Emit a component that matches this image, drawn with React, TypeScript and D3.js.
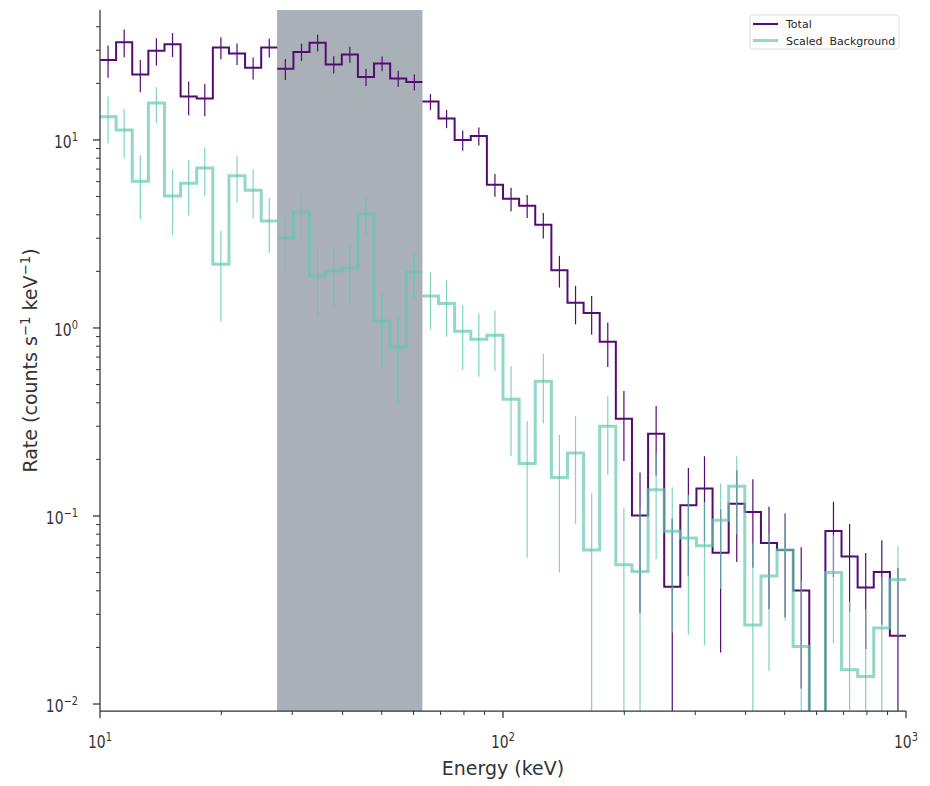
import React from "react";
import * as d3 from "d3";

// spectrum binning: log-uniform bins between 10 keV and 1 MeV
const nBins = 50;
const energyRange = [10, 1000];
const excludedBand = [27.5, 63.1];

// count rates per bin (counts / s / keV)
const totalRate = [
  26.6, 33.1, 22.3, 29.8, 32.3, 17.0, 16.6, 31.0, 28.8, 24.2,
  31.0, 23.9, 29.4, 32.9, 25.2, 28.5, 21.6, 25.5, 21.2, 20.3,
  16.0, 13.0, 10.0, 10.5, 5.78, 4.87, 4.47, 3.54, 2.03, 1.36,
  1.2, 0.845, 0.329, 0.1005, 0.274, 0.0421, 0.114, 0.14, 0.0638, 0.116,
  0.105, 0.0719, 0.0659, 0.0401, 0, 0.0832, 0.0608, 0.0416, 0.0504, 0.0231,
];
const totalErr = [
  5.2, 5.6, 4.35, 4.95, 4.7, 3.45, 3.25, 4.15, 3.8, 3.25,
  3.55, 3.05, 3.1, 3.35, 2.67, 2.8, 2.25, 2.3, 2.1, 2.0,
  1.55, 1.45, 1.23, 1.15, 0.8, 0.7, 0.63, 0.55, 0.39, 0.315,
  0.28, 0.225, 0.133, 0.07, 0.11, 0.055, 0.066, 0.068, 0.045, 0.059,
  0.052, 0.04, 0.037, 0.028, 0, 0.036, 0.03, 0.022, 0.024, 0.03,
];
const backgroundRate = [
  13.3, 11.3, 6.03, 15.7, 5.04, 5.89, 7.1, 2.18, 6.44, 5.4,
  3.71, 3.0, 4.14, 1.89, 2.01, 2.08, 4.04, 1.09, 0.789, 1.98,
  1.48, 1.35, 0.96, 0.87, 0.914, 0.418, 0.19, 0.52, 0.16, 0.216,
  0.066, 0.3, 0.055, 0.0506, 0.138, 0.083, 0.0764, 0.0695, 0.095, 0.144,
  0.0263, 0.048, 0.0659, 0.0202, 0, 0.05, 0.0152, 0.014, 0.0254, 0.046,
];
const backgroundErr = [
  3.7, 3.3, 2.25, 3.4, 1.9, 1.93, 2.05, 1.1, 1.8, 1.57,
  1.2, 1.05, 1.15, 0.75, 0.73, 0.73, 0.97, 0.48, 0.39, 0.57,
  0.5, 0.45, 0.36, 0.32, 0.32, 0.21, 0.13, 0.21, 0.11, 0.125,
  0.066, 0.135, 0.055, 0.06, 0.079, 0.059, 0.053, 0.049, 0.054, 0.064,
  0.045, 0.033, 0.038, 0.025, 0, 0.029, 0.02, 0.018, 0.022, 0.023,
];

const seriesLabels = ["Total", "Scaled  Background"];
const xTickExponents = [1, 2, 3];
const yTickExponents = [-2, -1, 0, 1];

const W = 930;
const H = 786;
const margin = { left: 100, right: 24, top: 10, bottom: 75 };
const innerW = W - margin.left - margin.right;
const innerH = H - margin.top - margin.bottom;

const PURPLE = "#540b74";
const TEAL = "#64c8af";
const AXIS = "#333333";
const FONT = "'DejaVu Sans', sans-serif";

const edges = d3
  .range(nBins + 1)
  .map((k) => energyRange[0] * Math.pow(energyRange[1] / energyRange[0], k / nBins));

const x = d3.scaleLog().domain(energyRange).range([margin.left, margin.left + innerW]);
const y = d3.scaleLog().domain([0.00918, 49.1]).range([margin.top + innerH, margin.top]);

// split bins into runs: below / inside / above the excluded band
const zoneOf = (i: number) => {
  const c = Math.sqrt(edges[i] * edges[i + 1]);
  return c < excludedBand[0] ? 0 : c < excludedBand[1] ? 1 : 2;
};
const segments: number[][] = [];
d3.range(nBins).forEach((i) => {
  const last = segments[segments.length - 1];
  if (last && zoneOf(last[0]) === zoneOf(i)) last.push(i);
  else segments.push([i]);
});

const safe = (v: number) => (v > 0 ? v : 1e-6);
const stepLine = d3
  .line<[number, number]>()
  .x((d) => x(d[0]))
  .y((d) => y(safe(d[1])));

const stepPath = (vals: number[], bins: number[]) =>
  stepLine(
    bins.flatMap((i) => [
      [edges[i], vals[i]] as [number, number],
      [edges[i + 1], vals[i]] as [number, number],
    ])
  ) as string;

const supText = (e: number) => (e < 0 ? "\u2212" + Math.abs(e) : String(e));

function PowerLabel({ px, py, exp, anchor }: { px: number; py: number; exp: number; anchor: string }) {
  return (
    <g transform={`translate(${px},${py}) scale(0.82,1)`}>
      <text textAnchor={anchor} fontSize={17} fill={AXIS} fontFamily={FONT}>
        10
        <tspan fontSize={12} dy={-7}>
          {supText(exp)}
        </tspan>
      </text>
    </g>
  );
}

function Series({ vals, errs, color, width, opacity }: { vals: number[]; errs: number[]; color: string; width: number; opacity: number }) {
  return (
    <g>
      {d3.range(nBins).map((i) =>
        errs[i] > 0 ? (
          <line
            key={"e" + i}
            x1={x(Math.sqrt(edges[i] * edges[i + 1]))}
            x2={x(Math.sqrt(edges[i] * edges[i + 1]))}
            y1={y(vals[i] + errs[i])}
            y2={y(safe(vals[i] - errs[i]))}
            stroke={color}
            strokeOpacity={Math.min(1, opacity + 0.1)}
            strokeWidth={1.2}
          />
        ) : null
      )}
      {segments.map((bins, k) => (
        <path
          key={"s" + k}
          d={stepPath(vals, bins)}
          fill="none"
          stroke={color}
          strokeOpacity={opacity}
          strokeWidth={width}
        />
      ))}
    </g>
  );
}

export default function App() {
  const bottom = margin.top + innerH;
  const minorX = [10, 100].flatMap((d) => d3.range(2, 10).map((k) => k * d));
  const minorY = [0.01, 0.1, 1, 10]
    .flatMap((d) => d3.range(2, 10).map((k) => k * d))
    .filter((v) => v < y.domain()[1]);

  return (
    <svg
      width={W}
      height={H}
      style={{ position: "absolute", left: 0, top: 0, background: "#fff" }}
      fontFamily={FONT}
    >
      <defs>
        <clipPath id="plot-area">
          <rect x={margin.left} y={margin.top} width={innerW} height={innerH} />
        </clipPath>
      </defs>

      {/* excluded energy range */}
      <rect
        x={x(excludedBand[0])}
        y={margin.top}
        width={x(excludedBand[1]) - x(excludedBand[0])}
        height={innerH}
        fill="#aab0b8"
      />

      <g clipPath="url(#plot-area)">
        <Series vals={totalRate} errs={totalErr} color={PURPLE} width={2} opacity={1} />
        <Series vals={backgroundRate} errs={backgroundErr} color={TEAL} width={3} opacity={0.7} />
      </g>

      {/* axes */}
      <line x1={margin.left} x2={margin.left} y1={margin.top} y2={bottom} stroke={AXIS} strokeWidth={1.25} />
      <line x1={margin.left} x2={margin.left + innerW} y1={bottom} y2={bottom} stroke={AXIS} strokeWidth={1.25} />

      {xTickExponents.map((e) => (
        <g key={"xt" + e}>
          <line x1={x(10 ** e)} x2={x(10 ** e)} y1={bottom} y2={bottom + 7} stroke={AXIS} strokeWidth={1.25} />
          <PowerLabel px={x(10 ** e)} py={748} exp={e} anchor="middle" />
        </g>
      ))}
      {minorX.map((v) => (
        <line key={"xm" + v} x1={x(v)} x2={x(v)} y1={bottom} y2={bottom + 4} stroke={AXIS} strokeWidth={1} />
      ))}

      {yTickExponents.map((e) => (
        <g key={"yt" + e}>
          <line x1={margin.left - 7} x2={margin.left} y1={y(10 ** e)} y2={y(10 ** e)} stroke={AXIS} strokeWidth={1.25} />
          <PowerLabel px={78} py={y(10 ** e) + 8.3} exp={e} anchor="end" />
        </g>
      ))}
      {minorY.map((v) => (
        <line key={"ym" + v} x1={margin.left - 4} x2={margin.left} y1={y(v)} y2={y(v)} stroke={AXIS} strokeWidth={1} />
      ))}

      <text x={margin.left + innerW / 2} y={775} textAnchor="middle" fontSize={19} fill={AXIS}>
        Energy (keV)
      </text>
      <text
        transform={`translate(37,${margin.top + innerH / 2}) rotate(-90)`}
        textAnchor="middle"
        fontSize={19}
        fill={AXIS}
      >
        Rate (counts s
        <tspan fontSize={13.3} dy={-7}>{"\u22121"}</tspan>
        <tspan dy={7}> keV</tspan>
        <tspan fontSize={13.3} dy={-7}>{"\u22121"}</tspan>
        <tspan dy={7}>)</tspan>
      </text>

      {/* legend */}
      <g>
        <rect x={750} y={15} width={149} height={34} rx={3} fill="#fff" fillOpacity={0.8} stroke="#dddddd" />
        <line x1={753} x2={778} y1={24} y2={24} stroke={PURPLE} strokeWidth={2} />
        <line x1={753} x2={778} y1={40.5} y2={40.5} stroke={TEAL} strokeOpacity={0.7} strokeWidth={3} />
        <text x={786} y={28} fontSize={11} fill="#262626" style={{ whiteSpace: "pre" }}>
          {seriesLabels[0]}
        </text>
        <text x={786} y={44.5} fontSize={11} fill="#262626" style={{ whiteSpace: "pre" }}>
          {seriesLabels[1]}
        </text>
      </g>
    </svg>
  );
}
